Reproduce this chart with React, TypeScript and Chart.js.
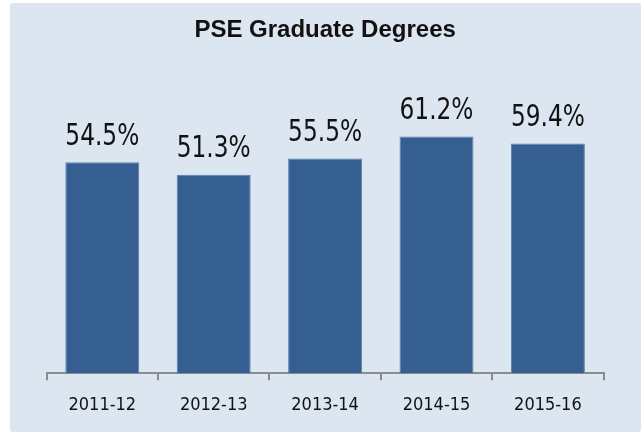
import React, { useEffect, useRef } from "react";
import { Chart, registerables } from "chart.js";

Chart.register(...registerables);

const categories: string[] = ["2011-12", "2012-13", "2013-14", "2014-15", "2015-16"];
const values: number[] = [54.5, 51.3, 55.5, 61.2, 59.4];
const titleText = "PSE Graduate Degrees";

const narrow = '"DejaVu Sans Condensed", "Liberation Sans Narrow", sans-serif';

const valueLabels = {
  id: "valueLabels",
  afterDatasetsDraw(chart: any) {
    const ctx = chart.ctx;
    const meta = chart.getDatasetMeta(0);
    const sx = 0.835;
    ctx.save();
    ctx.fillStyle = "#111111";
    ctx.font = `31px ${narrow}`;
    ctx.textAlign = "center";
    ctx.textBaseline = "alphabetic";
    meta.data.forEach((bar: any, i: number) => {
      ctx.save();
      ctx.translate(bar.x, bar.y - 17.5);
      ctx.scale(sx, 1);
      ctx.fillText(values[i].toFixed(1) + "%", 0, 0);
      ctx.restore();
    });
    ctx.restore();
  },
};

export default function App() {
  const ref = useRef<HTMLCanvasElement>(null);
  useEffect(() => {
    if (!ref.current) return;
    const chart = new Chart(ref.current, {
      type: "bar",
      data: {
        labels: categories,
        datasets: [
          {
            data: values,
            backgroundColor: "#365f91",
            borderColor: "#5a80b0",
            borderWidth: 1,
            categoryPercentage: 1,
            barPercentage: 0.664,
          },
        ],
      },
      options: {
        responsive: false,
        animation: false,
        layout: { padding: { left: 36.6, right: 37.4, top: 0, bottom: 0.6 } },
        plugins: {
          legend: { display: false },
          tooltip: { enabled: false },
          title: {
            display: true,
            text: titleText,
            color: "#111111",
            font: { family: '"Liberation Sans", Arial, sans-serif', size: 24, weight: "bold" },
            padding: { top: 12.6, bottom: 58 },
          },
        },
        scales: {
          x: {
            grid: {
              display: true,
              drawOnChartArea: false,
              drawTicks: true,
              tickLength: 7,
              color: "#8c8c8c",
              lineWidth: 2,
            },
            border: { display: true, color: "#8c8c8c", width: 2 },
            ticks: {
              color: "#111111",
              font: { family: narrow, size: 18 },
              padding: 14.8,
              maxRotation: 0,
            },
          },
          y: {
            display: false,
            min: 0,
            max: 70,
          },
        },
      },
      plugins: [valueLabels],
    });
    return () => chart.destroy();
  }, []);

  return (
    <div
      style={{
        position: "absolute",
        left: 10,
        top: 3,
        width: 631,
        height: 429,
        background: "#dce6f1",
        borderRadius: 3,
      }}
    >
      <canvas ref={ref} width={631} height={429} style={{ display: "block" }} />
    </div>
  );
}
